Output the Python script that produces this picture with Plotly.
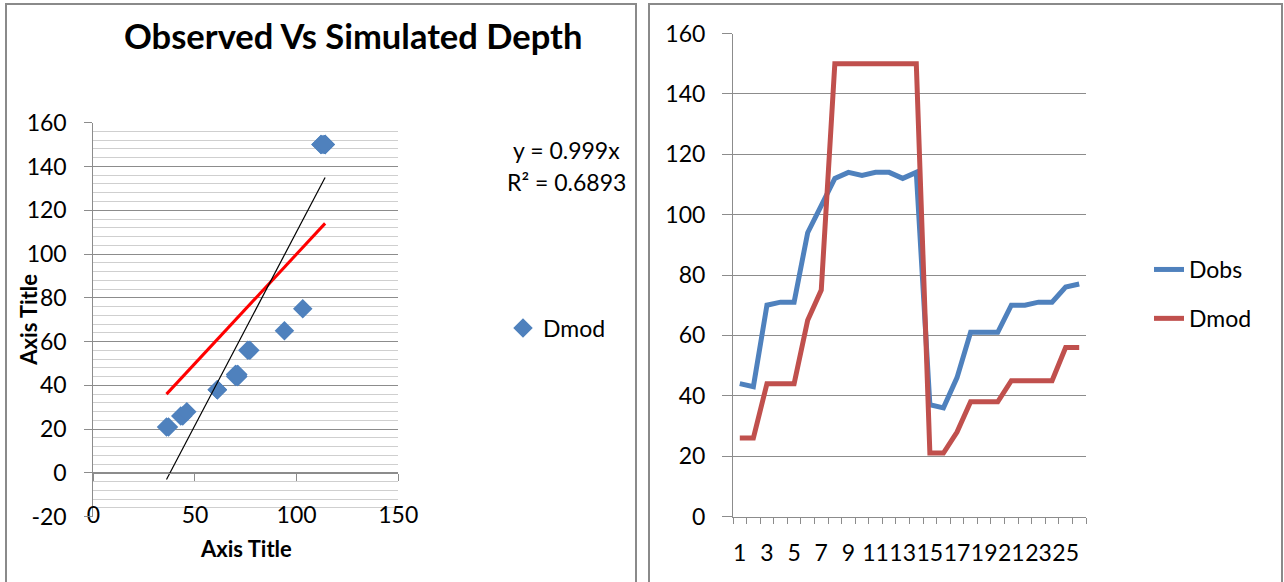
import plotly.graph_objects as go

# ---- data ----
index = list(range(1, 27))
dobs = [44, 43, 70, 71, 71, 94, 103, 112, 114, 113, 114, 114, 112, 114,
        37, 36, 46, 61, 61, 61, 70, 70, 71, 71, 76, 77]
dmod = [26, 26, 44, 44, 44, 65, 75, 150, 150, 150, 150, 150, 150, 150,
        21, 21, 28, 38, 38, 38, 45, 45, 45, 45, 56, 56]
trend_x = [36, 114]
trend_red_y = [36, 114]
trend_black_y = [-3, 135]
left_y_ticks = [-20, 0, 20, 40, 60, 80, 100, 120, 140, 160]
left_x_ticks = [0, 50, 100, 150]
right_y_ticks = [0, 20, 40, 60, 80, 100, 120, 140, 160]
x_labels_vals = [1, 3, 5, 7, 9, 11, 13, 15, 17, 19, 21, 23, 25]
title_text = "Observed Vs Simulated Depth"
axis_title = "Axis Title"
eq_text = ["y = 0.999x", "R² = 0.6893"]

W, H = 1284, 582
FONT = "Lato"
GRID = "#8c8c8c"
MINOR = "#cfcfcf"
BLUE = "#4f81bd"
RED = "#c0504d"


def px(xp):
    return xp / W


def py(yp):
    return 1 - yp / H


fig = go.Figure()

# Left chart: scatter + trendlines
fig.add_trace(go.Scatter(
    x=dobs, y=dmod, mode="markers", name="Dmod",
    marker=dict(symbol="diamond", size=15, color=BLUE),
    xaxis="x", yaxis="y", legend="legend", showlegend=True))
fig.add_trace(go.Scatter(
    x=trend_x, y=trend_red_y, mode="lines", line=dict(color="#ff0000", width=3),
    xaxis="x", yaxis="y", showlegend=False, hoverinfo="skip"))
fig.add_trace(go.Scatter(
    x=trend_x, y=trend_black_y, mode="lines", line=dict(color="#000000", width=1.2),
    xaxis="x", yaxis="y", showlegend=False, hoverinfo="skip"))

# Right chart: lines
fig.add_trace(go.Scatter(
    x=index, y=dobs, mode="lines", name="Dobs",
    line=dict(color=BLUE, width=5), xaxis="x2", yaxis="y2",
    legend="legend2", legendgroup="a"))
fig.add_trace(go.Scatter(
    x=index, y=dmod, mode="lines", name="Dmod",
    line=dict(color=RED, width=5), xaxis="x2", yaxis="y2",
    legend="legend2", legendgroup="b"))

ly0, ly1 = py(516.7), py(122.7)
zero_pos = ly0 + (0 - (-20)) / 180 * (ly1 - ly0)
lx0, lx1 = px(93.3), px(398.3)

tickfont = dict(family=FONT, size=23, color="#000")

fig.update_layout(
    width=W, height=H,
    margin=dict(l=0, r=0, t=0, b=0),
    paper_bgcolor="white", plot_bgcolor="white",
    font=dict(family=FONT, color="#000"),
    xaxis=dict(
        domain=[lx0, lx1], range=[0, 150],
        tickmode="array", tickvals=left_x_ticks, ticktext=[str(v) for v in left_x_ticks],
        anchor="free", position=zero_pos, automargin=False,
        showgrid=False, zeroline=False, showline=True, linecolor=GRID, linewidth=1,
        ticks="outside", ticklen=7, tickcolor=GRID, tickfont=tickfont,
        ticklabelstandoff=14,
    ),
    yaxis=dict(
        domain=[ly0, ly1], range=[-20, 160],
        tickmode="array", tickvals=left_y_ticks, ticktext=[str(v) for v in left_y_ticks],
        anchor="x", automargin=False, showgrid=True, gridcolor=GRID, gridwidth=1,
        zeroline=False, showline=True, linecolor=GRID, linewidth=1,
        ticks="outside", ticklen=8, tickcolor=GRID, tickfont=tickfont,
        ticklabelstandoff=13,
        minor=dict(tickmode="linear", dtick=4, tick0=0, showgrid=True,
                   gridcolor=MINOR, gridwidth=1),
    ),
    xaxis2=dict(
        domain=[px(733), px(1086)], range=[0.5, 26.5],
        anchor="y2", automargin=False, tickmode="array", tickvals=x_labels_vals,
        ticktext=[str(v) for v in x_labels_vals], ticks="", tickangle=0,
        showgrid=False, zeroline=False, showline=True, linecolor=GRID, linewidth=1,
        tickfont=tickfont, ticklabelstandoff=16,
        minor=dict(tickmode="array", tickvals=[i - 0.5 for i in index] + [index[-1] + 0.5],
                   ticks="outside", ticklen=6, tickcolor=GRID, showgrid=False),
    ),
    yaxis2=dict(
        domain=[py(516.5), py(33.5)], range=[0, 160],
        tickmode="array", tickvals=right_y_ticks, ticktext=[str(v) for v in right_y_ticks],
        anchor="x2", automargin=False, showgrid=True, gridcolor=GRID, gridwidth=1,
        zeroline=False, showline=True, linecolor=GRID, linewidth=1,
        ticks="outside", ticklen=10, tickcolor=GRID, tickfont=tickfont,
        ticklabelstandoff=12,
    ),
    legend=dict(
        x=px(503), y=py(328), xanchor="left", yanchor="middle",
        font=dict(family=FONT, size=23), bgcolor="rgba(0,0,0,0)",
    ),
    legend2=dict(
        x=px(1149), y=py(294), xanchor="left", yanchor="middle",
        font=dict(family=FONT, size=23), bgcolor="rgba(0,0,0,0)",
        traceorder="grouped", tracegroupgap=16,
    ),
    shapes=[
        dict(type="rect", xref="paper", yref="paper",
             x0=px(6), x1=px(636), y0=-0.05, y1=py(4),
             line=dict(color="#8a8a8a", width=2), fillcolor="rgba(0,0,0,0)", layer="below"),
        dict(type="rect", xref="paper", yref="paper",
             x0=px(649), x1=px(1282), y0=-0.05, y1=py(4),
             line=dict(color="#8a8a8a", width=2), fillcolor="rgba(0,0,0,0)", layer="below"),
    ],
    annotations=[
        dict(text="<b>" + title_text + "</b>", xref="paper", yref="paper",
             x=px(353), y=py(35), xanchor="center", yanchor="middle",
             showarrow=False, font=dict(family=FONT, size=34.5)),
        dict(text="<b>" + axis_title + "</b>", xref="paper", yref="paper",
             x=px(29), y=(ly0 + ly1) / 2, xanchor="center", yanchor="middle",
             textangle=-90, showarrow=False, font=dict(family=FONT, size=22)),
        dict(text="<b>" + axis_title + "</b>", xref="paper", yref="paper",
             x=(lx0 + lx1) / 2, y=py(548), xanchor="center", yanchor="middle",
             showarrow=False, font=dict(family=FONT, size=22)),
        dict(text=eq_text[0], xref="paper", yref="paper",
             x=px(566), y=py(150), xanchor="center", yanchor="middle",
             showarrow=False, font=dict(family=FONT, size=23)),
        dict(text=eq_text[1], xref="paper", yref="paper",
             x=px(566), y=py(182), xanchor="center", yanchor="middle",
             showarrow=False, font=dict(family=FONT, size=23)),
    ],
)

fig.write_html("out.html")
